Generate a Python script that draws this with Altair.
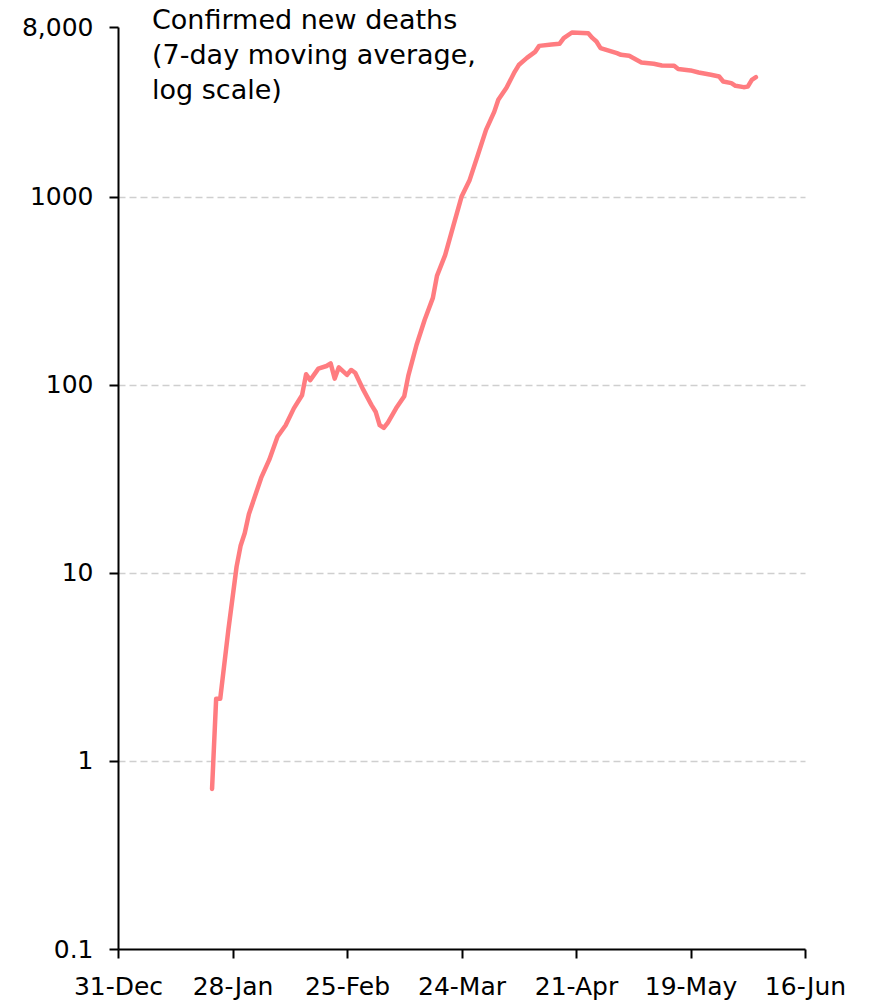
import altair as alt
import pandas as pd

# Day offsets from 31-Dec-2019 and 7-day moving average of new deaths
day_offsets = [23, 24, 25, 27, 29, 30, 31, 32, 35, 37, 39, 41, 43, 45, 46, 47, 49, 51, 52, 53,
               54, 56, 57, 58, 60, 62, 63, 64, 65, 66, 68, 70, 71, 73, 75, 77, 78, 80, 82, 84,
               86, 88, 90, 92, 93, 95, 97, 98, 100, 102, 103, 106, 108, 109, 111, 115, 116, 117,
               118, 122, 123, 125, 128, 131, 133, 136, 137, 140, 142, 145, 147, 148, 150, 151,
               153, 154, 155, 156]
deaths = [0.71, 2.14, 2.14, 5.0, 10.8, 14.0, 16.3, 20.5, 32, 40, 53, 61, 75, 88, 114, 106, 122,
          126, 130, 108, 124, 113, 120, 116, 94, 78, 72, 61, 59, 63, 75, 87, 112, 163, 222, 290,
          380, 490, 700, 1000, 1230, 1670, 2270, 2830, 3280, 3800, 4620, 5020, 5480, 5900, 6350,
          6450, 6520, 6980, 7480, 7400, 7000, 6700, 6180, 5810, 5690, 5620, 5180, 5100, 4990,
          4975, 4780, 4700, 4585, 4455, 4365, 4105, 4025, 3895, 3830, 3855, 4190, 4330]

y_ticks = [0.1, 1, 10, 100, 1000, 8000]
x_tick_offsets = [0, 28, 56, 84, 112, 140, 168]
title_lines = ["Confirmed new deaths", "(7-day moving average,", "log scale)"]

base_date = pd.Timestamp("2019-12-31")
df = pd.DataFrame({
    "date": [(base_date + pd.Timedelta(days=d)).strftime("%Y-%m-%d") for d in day_offsets],
    "deaths": deaths,
})

def dt(offset):
    t = base_date + pd.Timedelta(days=offset)
    return alt.DateTime(year=t.year, month=t.month, date=t.day, utc=True)

x_values = [dt(o) for o in x_tick_offsets]

FONT = "DejaVu Sans"

x_enc = alt.X(
    "date:T",
    scale=alt.Scale(type="utc", domain=[dt(0), dt(168)]),
    axis=alt.Axis(
        values=x_values, labelExpr="utcFormat(datum.value, '%d-%b')", title=None,
        grid=False, domainColor="black", domainWidth=2, tickColor="black",
        tickWidth=2, tickSize=9, labelFontSize=25, labelColor="black",
        labelFont=FONT, labelPadding=16, labelFlush=False, labelOverlap=False,
    ),
)

y_enc = alt.Y(
    "deaths:Q",
    scale=alt.Scale(type="log", domain=[0.1, 8000], nice=False),
    axis=alt.Axis(
        values=y_ticks, title=None,
        labelExpr="datum.value >= 8000 ? '8,000' : (datum.value < 1 ? '0.1' : format(datum.value, 'd'))",
        grid=True, gridColor="#cfcfcf", gridDash=[7, 4], gridWidth=1.5,
        gridOpacity={"condition": {"test": "datum.value >= 8000 || datum.value <= 0.1", "value": 0}, "value": 1},
        domainColor="black", domainWidth=2, ticks=True, tickSize=9, tickWidth=2,
        tickColor="black", labelPadding=16,
        labelFontSize=25, labelColor="black", labelFont=FONT,
    ),
)

line = alt.Chart(df).mark_line(
    color="#ff7c80", strokeWidth=4.5, strokeJoin="round", strokeCap="round"
).encode(x=x_enc, y=y_enc)

title = alt.Chart(pd.DataFrame({"t": [title_lines]})).mark_text(
    align="left", baseline="alphabetic", fontSize=27, lineHeight=35, font=FONT, color="black"
).encode(x=alt.value(34), y=alt.value(2), text="t")

chart = alt.layer(line, title).properties(
    width=687, height=922,
    autosize=alt.AutoSizeParams(type="none"),
    padding={"left": 110, "top": 19, "right": 60, "bottom": 55},
).configure_view(stroke=None)

chart.save("out.html", embed_options={"renderer": "svg", "actions": False})
